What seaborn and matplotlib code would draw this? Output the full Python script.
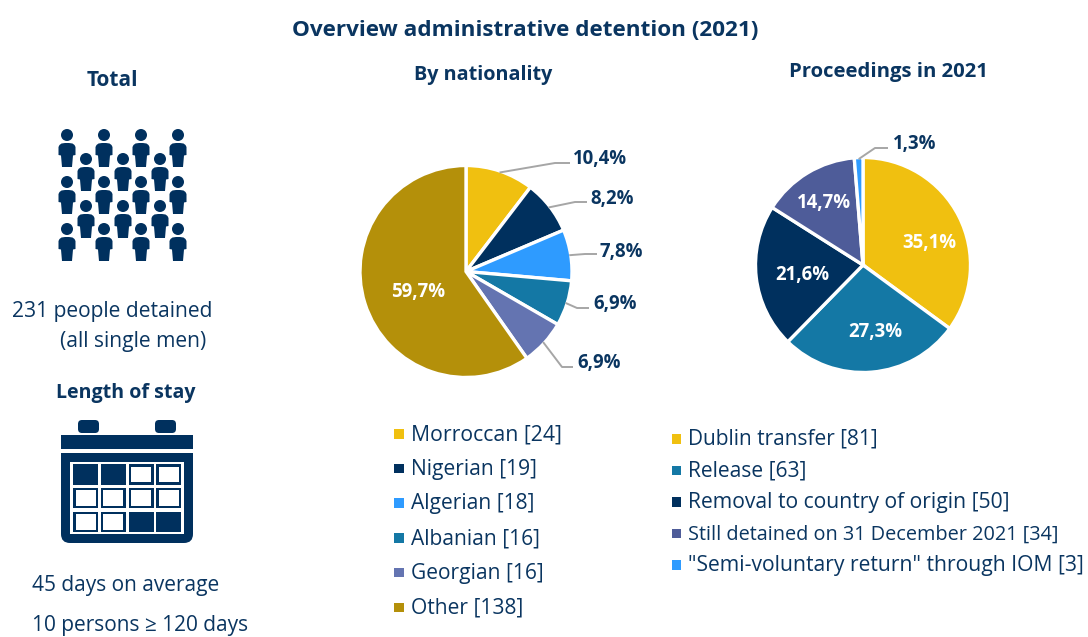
import numpy as np
import seaborn as sns
import matplotlib
matplotlib.use("Agg")
import matplotlib.pyplot as plt
from matplotlib.patches import Rectangle, Circle, FancyBboxPatch, Polygon

nat_names = ["Morroccan", "Nigerian", "Algerian", "Albanian", "Georgian", "Other"]
nat_counts = [24, 19, 18, 16, 16, 138]
nat_pct = [10.4, 8.2, 7.8, 6.9, 6.9, 59.7]
proc_names = ["Dublin transfer", "Release", "Removal to country of origin",
              "Still detained on 31 December 2021", '"Semi-voluntary return" through IOM']
proc_counts = [81, 63, 50, 34, 3]
proc_pct = [35.1, 27.3, 21.6, 14.7, 1.3]

NAVY = "#00305E"
TEXT = "#0A3560"
YEL, BLUE, TEAL, PERI, GOLD, SLATE = "#F0C010", "#2E9BFF", "#1478A5", "#6474B1", "#B4900A", "#4E5C99"
nat_colors = [YEL, NAVY, BLUE, TEAL, PERI, GOLD]
proc_colors = [YEL, TEAL, NAVY, SLATE, BLUE]

sns.set_theme(style="white")
plt.rcParams["font.family"] = ["Open Sans", "DejaVu Sans"]
W, H = 1088, 637
TY = 2  # vertical nudge of text centres, in pixels
fig = plt.figure(figsize=(W / 100, H / 100), dpi=100)

bg = fig.add_axes([0, 0, 1, 1])
bg.set_xlim(0, W); bg.set_ylim(H, 0); bg.axis("off")


def fmt(p):
    return f"{p:.1f}%".replace(".", ",")


def pie(cx, cy, r, counts, pct, colors, outside, inside):
    ax = fig.add_axes([(cx - r) / W, 1 - (cy + r) / H, 2 * r / W, 2 * r / H])
    wedges, _ = ax.pie(counts, colors=colors, startangle=90, counterclock=False, radius=1,
                       wedgeprops=dict(edgecolor="white", linewidth=2.4))
    ax.set_xlim(-1, 1); ax.set_ylim(-1, 1)
    for i, (w, p) in enumerate(zip(wedges, pct)):
        a = np.deg2rad((w.theta1 + w.theta2) / 2)
        ox, oy = cx + (r - 1.5) * np.cos(a), cy - (r - 1.5) * np.sin(a)
        if i in outside:
            kx, ky, ex, lx, ly = outside[i]
            ax.plot([ox, kx, ex], [oy, ky, ky], color="#A6A6A6", lw=1.4, solid_capstyle="butt",
                    transform=bg.transData, clip_on=False, scalex=False, scaley=False)
            ax.text(lx, ly + TY, fmt(p), color=TEXT, fontsize=13.4, fontweight="bold", ha="left",
                    va="center", transform=bg.transData, clip_on=False)
        else:
            lx, ly = inside[i]
            ax.text(lx, ly + TY, fmt(p), color="white", fontsize=13.4, fontweight="bold",
                    ha="center", va="center", transform=bg.transData)
    return ax


pie(466, 271.5, 106, nat_counts, nat_pct, nat_colors,
    {0: (555, 163, 570, 573, 157), 1: (575, 202, 587, 590, 197), 2: (585, 254, 597, 600, 250),
     3: (577, 308, 589, 593, 302), 4: (562, 367, 573, 577, 361)},
    {5: (418, 290)})
pie(863, 265, 107.5, proc_counts, proc_pct, proc_colors,
    {4: (875, 148, 888, 893, 142)},
    {0: (929, 241), 1: (875, 330), 2: (802, 273), 3: (824, 201)})


def t(x, y, s, **kw):
    kw.setdefault("color", TEXT)
    kw.setdefault("va", "center")
    kw.setdefault("ha", "center")
    bg.text(x, y + TY, s, **kw)


t(525, 28, "Overview administrative detention (2021)", fontsize=16.2, fontweight="bold")
t(112, 78, "Total", fontsize=15, fontweight="bold")
t(483, 73, "By nationality", fontsize=14.2, fontweight="bold")
t(888, 70, "Proceedings in 2021", fontsize=14.6, fontweight="bold")
t(126, 391, "Length of stay", fontsize=14.1, fontweight="bold")
t(112, 310, "231 people detained", fontsize=15.1)
t(133, 340, "(all single men)", fontsize=15.1)
t(126, 583, "45 days on average", fontsize=15)
t(140, 623.5, "10 persons \u2265 120 days", fontsize=15)


def legend(names, counts, colors, x, y0, dy, sizes):
    for i, (n, c, col, fs) in enumerate(zip(names, counts, colors, sizes)):
        y = y0 + i * dy
        bg.add_patch(Rectangle((x, y - 4.5), 9.5, 9.5, color=col, lw=0))
        bg.text(x + 17, y + TY - 1, f"{n} [{c}]", color=TEXT, fontsize=fs, va="center", ha="left")


legend(nat_names, nat_counts, nat_colors, 394, 433.5, 34.7, [15.3, 15.1, 15.1, 15.1, 15.1, 15.1])
legend(proc_names, proc_counts, proc_colors, 671.5, 438.5, 31.6, [15, 15.1, 15.2, 14.3, 15.2])


# decorative icons
def person(x, y):
    bg.add_patch(Circle((x, y + 6), 6, color=NAVY, lw=0))
    body = [(-8.5, 26), (-8.5, 18), (-7.5, 16), (-5.5, 14.5), (-2, 14), (2, 14), (5.5, 14.5), (7.5, 16),
            (8.5, 18), (8.5, 26), (6, 26.5), (5, 38), (-5, 38), (-6, 26.5)]
    bg.add_patch(Polygon([(x + a, y + b) for a, b in body], closed=True, color=NAVY, lw=0))


for yy in (129, 176, 223):
    for xx in (67, 104, 141, 178):
        person(xx, yy)
for yy in (153, 200):
    for xx in (86, 123, 160):
        person(xx, yy)

bg.add_patch(FancyBboxPatch((78, 420), 21, 13, boxstyle="round,pad=0,rounding_size=4", color=NAVY, lw=0))
bg.add_patch(FancyBboxPatch((155, 420), 21, 13, boxstyle="round,pad=0,rounding_size=4", color=NAVY, lw=0))
bg.add_patch(Rectangle((61, 435), 132, 14, color=NAVY, lw=0))
bg.add_patch(FancyBboxPatch((61, 453), 132, 90, boxstyle="round,pad=0,rounding_size=9", color=NAVY, lw=0))
bg.add_patch(Rectangle((61, 453), 132, 12, color=NAVY, lw=0))
bg.add_patch(Rectangle((70, 462), 114, 72, color="white", lw=0))
filled = {(0, 0), (0, 1), (2, 2), (2, 3)}
for r_ in range(3):
    for c_ in range(4):
        x0, y0 = 73 + c_ * 27.8, 464 + r_ * 23.8
        bg.add_patch(Rectangle((x0, y0), 25, 20.5, color=NAVY, lw=0))
        if (r_, c_) not in filled:
            bg.add_patch(Rectangle((x0 + 2.5, y0 + 2.5), 20, 15.5, color="white", lw=0))

fig.savefig("out.png", dpi=100)
